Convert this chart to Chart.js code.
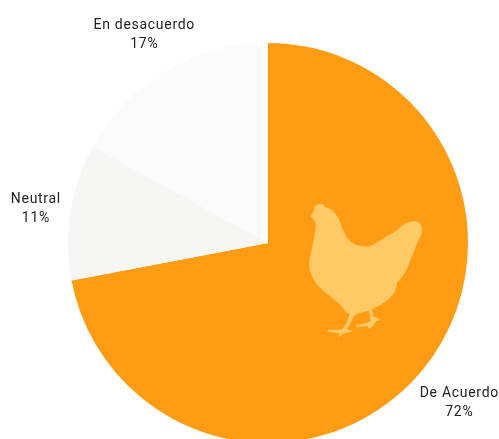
<!DOCTYPE html>
<html>
<head>
<meta charset="utf-8">
<script src="https://cdn.jsdelivr.net/npm/chart.js@4"></script>
<style>
  html, body { margin: 0; padding: 0; background: #fff; overflow: hidden; width: 499px; height: 439px; }
  #wrap { width: 499px; height: 460px; }
</style>
</head>
<body>
<div id="wrap"><canvas id="pie-chart" width="499" height="460"></canvas></div>
<script>
const categories = ['De Acuerdo', 'Neutral', 'En desacuerdo'];
const shares = [72, 11, 17];
const sliceColors = ['#FF9C14', '#F6F6F5', '#FBFBFB'];

// how far out each label sits, in pie radii
const labelReach = [1.235, 1.18, 1.225];

// hen silhouette, relative to the pie centre
const henOutline = [
  [60,80],[72,65],[74,48],[88,42],[102,44],[103,52],[120,56],[135,68],[147,90],[158,120],
  [170,145],[185,160],[205,168],[230,171],[250,166],[270,152],[295,137],[320,124],[335,108],
  [352,97],[375,93],[392,100],[396,118],[393,135],[382,155],[375,175],[362,205],[350,240],
  [330,268],[318,280],[318,300],[300,325],[270,345],[245,357],[250,380],[272,389],[258,393],
  [245,412],[238,416],[232,407],[200,410],[198,407],[235,398],[243,392],[238,360],[195,373],
  [180,400],[170,420],[186,424],[165,428],[146,440],[150,430],[112,424],[115,420],[155,420],
  [170,400],[180,373],[168,368],[155,345],[125,322],[90,295],[65,260],[57,225],[62,195],
  [72,150],[80,110],[75,90]
];
// outline points that belong to the legs stay sharp
const legStart = 33;
const legEnd = 56;

const henAndLabels = {
  id: 'henAndLabels',
  afterDraw(chart) {
    const ctx = chart.ctx;
    const arcs = chart.getDatasetMeta(0).data;
    const cx = arcs[0].x;
    const cy = arcs[0].y;

    ctx.save();
    ctx.fillStyle = '#FFC966';
    ctx.strokeStyle = '#FFC966';
    ctx.lineWidth = 0.6;
    ctx.lineJoin = 'round';
    const pts = henOutline.map(([x, y]) => [cx + 22 + x / 3, cy - 53 + y / 3]);
    const last = pts[pts.length - 1];
    ctx.beginPath();
    ctx.moveTo((last[0] + pts[0][0]) / 2, (last[1] + pts[0][1]) / 2);
    pts.forEach((p, i) => {
      const next = pts[(i + 1) % pts.length];
      if (i >= legStart && i <= legEnd) {
        ctx.lineTo(p[0], p[1]);
      } else {
        ctx.quadraticCurveTo(p[0], p[1], (p[0] + next[0]) / 2, (p[1] + next[1]) / 2);
      }
    });
    ctx.closePath();
    ctx.fill();
    ctx.stroke();

    ctx.fillStyle = '#222222';
    ctx.font = '14px Roboto';
    ctx.letterSpacing = '0.7px';
    ctx.textAlign = 'center';
    ctx.textBaseline = 'middle';
    arcs.forEach((arc, i) => {
      const mid = (arc.startAngle + arc.endAngle) / 2;
      const r = arc.outerRadius * labelReach[i];
      const x = cx + Math.cos(mid) * r + 1;
      const y = cy + Math.sin(mid) * r;
      ctx.fillText(categories[i], x, y - 7);
      ctx.fillText(shares[i] + '%', x, y + 12);
    });
    ctx.restore();
  }
};

new Chart(document.getElementById('pie-chart'), {
  type: 'pie',
  data: {
    labels: categories,
    datasets: [{
      data: shares,
      backgroundColor: sliceColors,
      borderWidth: 0
    }]
  },
  options: {
    responsive: false,
    animation: false,
    layout: { padding: { top: 43, bottom: 17, left: 68, right: 31 } },
    plugins: {
      legend: { display: false },
      tooltip: { enabled: false }
    }
  },
  plugins: [henAndLabels]
});
</script>
</body>
</html>
